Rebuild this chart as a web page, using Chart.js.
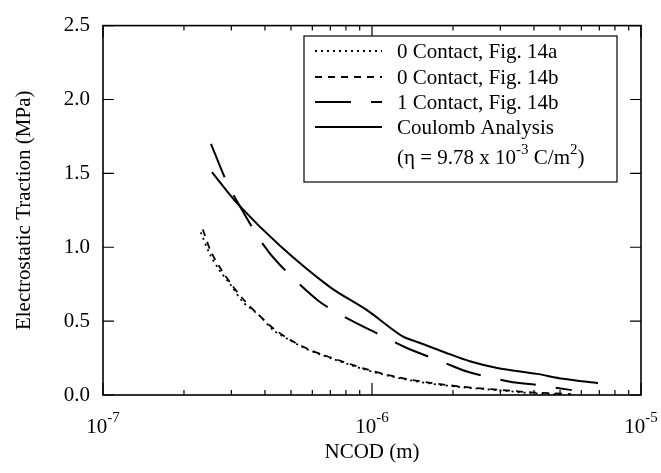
<!DOCTYPE html>
<html>
<head>
<meta charset="utf-8">
<title>Electrostatic Traction vs NCOD</title>
<script src="https://cdn.jsdelivr.net/npm/chart.js@4.4.1/dist/chart.umd.min.js"></script>
<style>
    html, body { margin: 0; padding: 0; background: #fff; }
    #wrap { width: 661px; height: 473px; }
</style>
</head>
<body>
<div id="wrap"><canvas id="tractionChart" width="661" height="473"></canvas></div>
<script>
// Series (x = NCOD in m, y = traction in MPa)
const contact0aX = [2.31e-7, 2.50e-7, 2.72e-7, 2.97e-7, 3.31e-7, 3.83e-7, 4.29e-7, 4.96e-7, 5.73e-7, 6.52e-7, 7.0e-7, 9.26e-7, 1.24e-6, 1.64e-6, 2.18e-6, 2.92e-6, 3.87e-6, 5.0e-6];
const contact0aY = [1.10, 0.95, 0.84, 0.75, 0.63, 0.535, 0.44, 0.37, 0.31, 0.27, 0.25, 0.176, 0.117, 0.078, 0.052, 0.033, 0.013, 0.005];

const contact0bX = [2.35e-7, 2.52e-7, 2.75e-7, 3.0e-7, 3.35e-7, 3.85e-7, 4.3e-7, 5.0e-7, 5.8e-7, 6.6e-7, 7.0e-7, 9.3e-7, 1.25e-6, 1.65e-6, 2.2e-6, 2.95e-6, 3.9e-6, 5.5e-6];
const contact0bY = [1.12, 0.97, 0.85, 0.75, 0.64, 0.53, 0.45, 0.37, 0.31, 0.27, 0.255, 0.18, 0.12, 0.082, 0.055, 0.036, 0.018, 0.006];

const contact1X = [2.52e-7, 2.87e-7, 3.2e-7, 3.9e-7, 4.55e-7, 6.3e-7, 7.8e-7, 1.09e-6, 1.34e-6, 1.85e-6, 2.27e-6, 3.26e-6, 3.94e-6, 5.53e-6];
const contact1Y = [1.70, 1.45, 1.29, 1.03, 0.88, 0.64, 0.535, 0.40, 0.32, 0.22, 0.157, 0.09, 0.072, 0.033];

const coulombX = [2.54e-7, 3.18e-7, 4.55e-7, 6.98e-7, 9.58e-7, 1.29e-6, 1.51e-6, 1.87e-6, 2.31e-6, 2.92e-6, 4.10e-6, 5.13e-6, 6.92e-6];
const coulombY = [1.508, 1.29, 1.01, 0.73, 0.574, 0.40, 0.352, 0.288, 0.228, 0.183, 0.143, 0.11, 0.08];

const seriesLabels = ['0 Contact, Fig. 14a', '0 Contact, Fig. 14b', '1 Contact, Fig. 14b', 'Coulomb Analysis'];
const xTickExponents = [-7, -6, -5];
const yTicks = [0, 0.5, 1.0, 1.5, 2.0, 2.5];

const FONT = '"Liberation Serif", "Times New Roman", serif';

function toPoints(xs, ys) {
    return xs.map((x, i) => ({ x: x, y: ys[i] }));
}

// Frame, inward ticks, x labels with exponents and the boxed legend
const framePlugin = {
    id: 'frame',
    afterDraw(chart) {
        const ctx = chart.ctx;
        const area = chart.chartArea;
        const xs = chart.scales.x;
        const ys = chart.scales.y;
        ctx.save();
        ctx.strokeStyle = '#000';
        ctx.lineWidth = 1.6;
        ctx.setLineDash([]);
        ctx.strokeRect(area.left, area.top, area.right - area.left, area.bottom - area.top);

        // x ticks, top and bottom, pointing inward
        ctx.lineWidth = 1.2;
        ctx.beginPath();
        for (let d = -7; d <= -5; d++) {
            for (let m = 1; m <= 9; m++) {
                const v = m * Math.pow(10, d);
                if (v > 1.0001e-5) break;
                const px = xs.getPixelForValue(v);
                const len = m === 1 ? 12 : 5;
                ctx.moveTo(px, area.bottom);
                ctx.lineTo(px, area.bottom - len);
                ctx.moveTo(px, area.top);
                ctx.lineTo(px, area.top + len);
            }
        }
        // y ticks, left and right
        yTicks.forEach(v => {
            const py = ys.getPixelForValue(v);
            ctx.moveTo(area.left, py);
            ctx.lineTo(area.left + 11, py);
            ctx.moveTo(area.right, py);
            ctx.lineTo(area.right - 11, py);
        });
        ctx.stroke();

        // x tick labels: 10 with a raised exponent
        ctx.fillStyle = '#000';
        ctx.textBaseline = 'alphabetic';
        ctx.textAlign = 'left';
        xTickExponents.forEach(e => {
            const px = xs.getPixelForValue(Math.pow(10, e));
            ctx.font = '21px ' + FONT;
            const baseW = ctx.measureText('10').width;
            ctx.font = '15px ' + FONT;
            const expText = '-' + Math.abs(e);
            const expW = ctx.measureText(expText).width;
            const start = px - (baseW + expW) / 2;
            ctx.font = '21px ' + FONT;
            ctx.fillText('10', start, area.bottom + 38);
            ctx.font = '15px ' + FONT;
            ctx.fillText(expText, start + baseW, area.bottom + 27);
        });

        // legend box
        const lx = 304, ly = 36, lw = 313, lh = 146;
        ctx.fillStyle = '#fff';
        ctx.fillRect(lx, ly, lw, lh);
        ctx.lineWidth = 1.2;
        ctx.strokeRect(lx, ly, lw, lh);

        const rows = [51, 77, 102, 127];
        chart.data.datasets.forEach((ds, i) => {
            const y = rows[i];
            ctx.strokeStyle = '#000';
            ctx.lineWidth = ds.borderWidth;
            ctx.setLineDash(ds.borderDash || []);
            ctx.beginPath();
            ctx.moveTo(315, y);
            ctx.lineTo(382, y);
            ctx.stroke();
            ctx.setLineDash([]);
            ctx.fillStyle = '#000';
            ctx.font = '21px ' + FONT;
            ctx.textBaseline = 'middle';
            ctx.fillText(ds.label, 397, y + 1);
        });

        // parameter note with superscripts
        let x = 397;
        const base = 164;
        const parts = [
            ['(\u03B7 = 9.78 x 10', 21, 0],
            ['-3', 15, -10],
            [' C/m', 21, 0],
            ['2', 15, -10],
            [')', 21, 0]
        ];
        ctx.textBaseline = 'alphabetic';
        parts.forEach(p => {
            ctx.font = p[1] + 'px ' + FONT;
            ctx.fillText(p[0], x, base + p[2]);
            x += ctx.measureText(p[0]).width;
        });
        ctx.restore();
    }
};

const chart = new Chart(document.getElementById('tractionChart'), {
    type: 'line',
    data: {
        datasets: [
            {
                label: seriesLabels[0],
                data: toPoints(contact0aX, contact0aY),
                borderColor: '#000',
                borderWidth: 1.8,
                borderDash: [2, 4],
                pointRadius: 0,
                tension: 0.3,
                fill: false
            },
            {
                label: seriesLabels[1],
                data: toPoints(contact0bX, contact0bY),
                borderColor: '#000',
                borderWidth: 1.8,
                borderDash: [7, 6],
                pointRadius: 0,
                tension: 0.3,
                fill: false
            },
            {
                label: seriesLabels[2],
                data: toPoints(contact1X, contact1Y),
                borderColor: '#000',
                borderWidth: 2,
                borderDash: [36, 20],
                pointRadius: 0,
                tension: 0.3,
                fill: false
            },
            {
                label: seriesLabels[3],
                data: toPoints(coulombX, coulombY),
                borderColor: '#000',
                borderWidth: 2,
                pointRadius: 0,
                tension: 0.3,
                fill: false
            }
        ]
    },
    options: {
        responsive: false,
        animation: false,
        layout: { padding: { left: 0, right: 20, top: 12, bottom: 0 } },
        plugins: {
            legend: { display: false },
            tooltip: { enabled: false }
        },
        scales: {
            x: {
                type: 'logarithmic',
                min: 1e-7,
                max: 1e-5,
                grid: { display: false },
                border: { display: false },
                ticks: { display: false },
                title: {
                    display: true,
                    text: 'NCOD (m)',
                    color: '#000',
                    font: { family: FONT, size: 21 },
                    padding: { top: 0, bottom: 8 }
                },
                afterFit(scale) { scale.height = 78; }
            },
            y: {
                min: 0,
                max: 2.5,
                grid: { display: false, drawTicks: false },
                border: { display: false },
                ticks: {
                    stepSize: 0.5,
                    color: '#000',
                    padding: 13,
                    font: { family: FONT, size: 21 },
                    callback: v => v.toFixed(1)
                },
                title: {
                    display: true,
                    text: 'Electrostatic Traction (MPa)',
                    color: '#000',
                    font: { family: FONT, size: 21 },
                    padding: { top: 12, bottom: 0 }
                },
                afterFit(scale) { scale.width = 103; }
            }
        }
    },
    plugins: [framePlugin]
});
</script>
</body>
</html>
